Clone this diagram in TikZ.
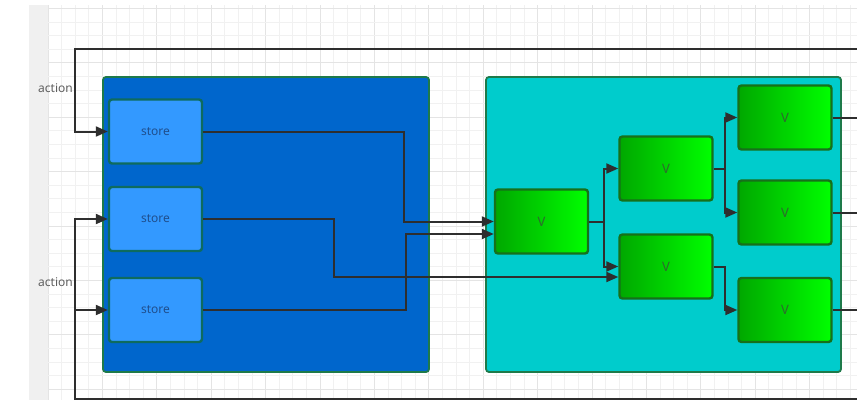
\documentclass[tikz,border=0pt]{standalone}
\usepackage{fontspec}
\setmainfont{Noto Sans}
\usetikzlibrary{arrows.meta}
\definecolor{linec}{HTML}{2E2E2E}
\definecolor{blueL}{HTML}{0066CC}
\definecolor{cyanR}{HTML}{00CCCC}
\definecolor{storef}{HTML}{3399FF}
\definecolor{storeb}{HTML}{0E6B5E}
\definecolor{contb}{HTML}{1E7A4A}
\definecolor{greenb}{HTML}{17701A}
\definecolor{greenL}{HTML}{00A800}
\definecolor{greenR}{HTML}{00FF00}
\definecolor{gridmin}{HTML}{F1F1F1}
\definecolor{gridmaj}{HTML}{E4E4E4}
\definecolor{stripc}{HTML}{F0F0F0}
\definecolor{storetxt}{HTML}{1F4E8C}
\definecolor{vtxt}{HTML}{2D6B2D}
\definecolor{acttxt}{HTML}{5E5E5E}
\tikzset{
  contbox/.style={draw=contb, line width=1.8pt, rounded corners=3pt, inner sep=0pt},
  storebox/.style={draw=storeb, line width=2.4pt, fill=storef, rounded corners=3pt,
    minimum width=93pt, minimum height=64pt, inner sep=0pt, text=storetxt, font=\fontsize{12}{14}\selectfont},
  vbox/.style={draw=greenb, line width=2.4pt, left color=greenL, right color=greenR, rounded corners=3pt,
    minimum width=93pt, minimum height=64pt, inner sep=0pt, text=vtxt, font=\fontsize{13}{15}\selectfont},
  conn/.style={draw=linec, line width=2pt, -{Triangle[length=12pt,width=10pt]}},
  plain/.style={draw=linec, line width=2pt},
  actlabel/.style={text=acttxt, font=\fontsize{12}{14}\selectfont, inner sep=0pt}
}
\begin{document}
\begin{tikzpicture}[x=1pt,y=-1pt]
\useasboundingbox (0,0) rectangle (857,400);
% background
\fill[white] (0,0) rectangle (857,400);
\fill[stripc] (29,5) rectangle (48,400);
\foreach \i in {0,...,59} {
  \pgfmathsetmacro{\xx}{48+13.6*\i}
  \ifnum\numexpr\i-4*(\i/4)\relax=0
    \draw[gridmaj, line width=0.7pt] (\xx,5) -- (\xx,400);
  \else
    \draw[gridmin, line width=0.7pt] (\xx,5) -- (\xx,400);
  \fi
}
\foreach \j in {0,...,29} {
  \pgfmathsetmacro{\yy}{8.4+13.6*\j}
  \ifnum\numexpr\j-4*(\j/4)\relax=0
    \draw[gridmaj, line width=0.7pt] (48,\yy) -- (857,\yy);
  \else
    \draw[gridmin, line width=0.7pt] (48,\yy) -- (857,\yy);
  \fi
}
% containers
\node[contbox, fill=blueL, minimum width=326pt, minimum height=295pt] (cl) at (266,224.5) {};
\node[contbox, fill=cyanR, minimum width=355pt, minimum height=295pt] (cr) at (663.5,224.5) {};
% stores
\node[storebox] (s1) at (155.5,131.5) {store};
\node[storebox] (s2) at (155.5,219) {store};
\node[storebox] (s3) at (155.5,310) {store};
% V nodes
\node[vbox] (v1) at (541.5,221.5) {V};
\node[vbox] (v2) at (666,168.5) {V};
\node[vbox] (v3) at (666,266.5) {V};
\node[vbox] (v4) at (785,117.5) {V};
\node[vbox] (v5) at (785,212.5) {V};
\node[vbox] (v6) at (785,310) {V};
% labels
\node[actlabel] (a1) at (55.5,88) {action};
\node[actlabel] (a2) at (55.5,282) {action};
% helper coordinates
\coordinate (kl) at (75,0);
\coordinate (k1) at (404,0);
\coordinate (k2) at (334,0);
\coordinate (k3) at (406,0);
\coordinate (k4) at (604,0);
\coordinate (k5) at (725,0);
\coordinate (er) at (857,0);
\coordinate (tr) at (857,48.5);
\coordinate (br) at (857,399);
% feedback lines
\draw[conn] (tr) -- (tr -| kl) |- (s1.west);
\draw[conn] (br) -- (br -| kl) |- (s2.west);
\draw[conn] (s3.west -| kl) -- (s3.west);
% stores to V
\draw[conn] (s1.east) -- (s1.east -| k1) |- (v1.west);
\draw[conn] (s3.east) -- (s3.east -| k3) |- ([yshift=-12.5pt]v1.west);
\draw[conn] (s2.east) -- (s2.east -| k2) |- ([yshift=-10.5pt]v3.west);
% V to V
\draw[conn] (v1.east) -- (v1.east -| k4) |- (v2.west);
\draw[conn] (v1.east -| k4) |- (v3.west);
\draw[conn] (v2.east) -- (v2.east -| k5) |- (v4.west);
\draw[conn] (v2.east -| k5) |- (v5.west);
\draw[conn] (v3.east) -- (v3.east -| k5) |- (v6.west);
% outputs
\draw[plain] (v4.east) -- (v4.east -| er);
\draw[plain] (v5.east) -- (v5.east -| er);
\draw[plain] (v6.east) -- (v6.east -| er);
\end{tikzpicture}
\end{document}
